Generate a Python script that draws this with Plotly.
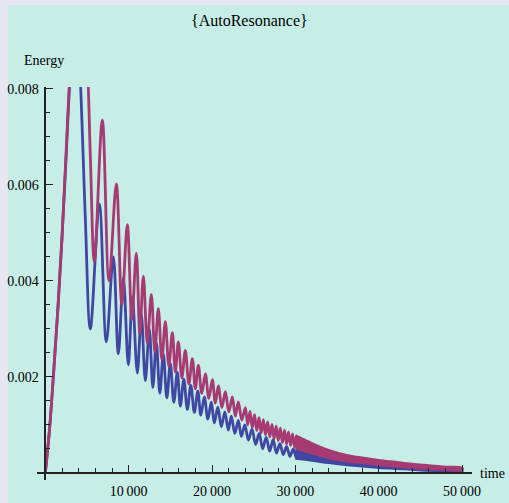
import plotly.graph_objects as go

# ---- data (time, energy) ----
red_t = [0, 500, 1000, 1500, 2000, 2500, 3000, 3700, 4400, 5000, 5400, 5880,
         6840, 7640, 8520, 9180, 9840, 10380, 10920, 11340, 11760, 12240,
         12720, 13140, 13560, 13980, 14400, 14820, 15240, 15600, 15960, 16380,
         16800, 17220, 17640, 18000, 18360, 18780, 19200, 19620, 20040, 20400,
         20760, 21180, 21600, 22020, 22440, 22800, 23160, 23580, 24000,
         24280, 24560, 24830, 25100, 25370, 25640, 25900, 26160, 26420, 26680,
         26940, 27200, 27450, 27700, 27950, 28200, 28450, 28700, 28940, 29180,
         29420, 29660, 29900, 30140, 30370, 30600, 30830, 31060, 31290, 31520,
         31750, 31980]
red_e = [0, 0.0009, 0.0021, 0.0034, 0.0049, 0.0067, 0.0084, 0.0096, 0.0096, 0.0086, 0.0066, 0.0044,
         0.00735, 0.0040, 0.00602, 0.0035, 0.00517, 0.0032, 0.00458, 0.0029, 0.0041, 0.0027,
         0.00372, 0.00252, 0.00342, 0.00236, 0.00315, 0.00222, 0.00292, 0.0021, 0.00273, 0.00198,
         0.00255, 0.00185, 0.00238, 0.00175, 0.00224, 0.00165, 0.00206, 0.00155, 0.00194, 0.00145,
         0.00181, 0.00136, 0.00169, 0.00127, 0.00158, 0.00118, 0.00148, 0.0011, 0.00136,
         0.00100, 0.00128, 0.00094, 0.00121, 0.00088, 0.00115, 0.00083, 0.00111, 0.00079, 0.00106,
         0.00075, 0.00101, 0.00071, 0.00097, 0.00067, 0.00093, 0.00063, 0.00089, 0.00060, 0.00085,
         0.00057, 0.00081, 0.00054, 0.00077, 0.00051, 0.00073, 0.00048, 0.00069, 0.00045, 0.00065,
         0.00042, 0.00061]

blue_t = [0, 500, 1000, 1500, 2000, 2500, 3000, 3500, 4000, 4400, 4800, 5400,
          6480, 7320, 8160, 8760, 9360, 9960, 10440, 11040, 11520, 12000,
          12480, 12900, 13320, 13740, 14160, 14580, 15000, 15420, 15840, 16200,
          16620, 17040, 17460, 17880, 18300, 18660, 19080, 19500, 19920, 20280,
          20700, 21120, 21540, 21960, 22320, 22740, 23160, 23520, 23940,
          24360, 24800, 25240, 25660, 26080, 26500, 26920, 27330, 27740, 28150,
          28550, 28950, 29350, 29750, 30140, 30530, 30920, 31310, 31700, 32090]
blue_e = [0, 0.0009, 0.0021, 0.0034, 0.0049, 0.0066, 0.0083, 0.0092, 0.0087, 0.0073, 0.0053, 0.0030,
          0.0056, 0.00273, 0.0045, 0.00248, 0.00406, 0.00225, 0.00367, 0.00208, 0.0033, 0.00192,
          0.0030, 0.00178, 0.00272, 0.00166, 0.00248, 0.00156, 0.00228, 0.00147, 0.0021, 0.00139,
          0.00195, 0.00132, 0.00182, 0.00126, 0.0017, 0.0012, 0.00158, 0.00112, 0.00147, 0.00104,
          0.00137, 0.00096, 0.00127, 0.00089, 0.00118, 0.00082, 0.00109, 0.00076, 0.0010,
          0.00068, 0.00091, 0.00059, 0.00082, 0.00050, 0.00074, 0.00045, 0.00069, 0.00041, 0.00061,
          0.00038, 0.00055, 0.00034, 0.00050, 0.00031, 0.00045, 0.00029, 0.00041, 0.00027, 0.00038]

# densest oscillations (read as a solid band): upper / lower envelopes
band_t = [30000, 32000, 34000, 36000, 38000, 40000, 42000, 44000, 46000, 48000, 50000]
red_upper = [0.00077, 0.00061, 0.00047, 0.00037, 0.00031, 0.00026, 0.00022, 0.00018, 0.00015, 0.00012, 0.0001]
red_lower = [0.00052, 0.00041, 0.00031, 0.00025, 0.00021, 0.00017, 0.00014, 0.00011, 0.00009, 0.00007, 0.00006]
blue_upper = [0.00046, 0.00038, 0.0003, 0.00024, 0.0002, 0.00016, 0.00013, 0.00011, 0.00009, 0.00007, 0.00006]
blue_lower = [0.00030, 0.00026, 0.00021, 0.00017, 0.00014, 0.00011, 0.00009, 0.00007, 0.00005, 0.00004, 0.00003]

x_ticks = [10000, 20000, 30000, 40000, 50000]
x_labels = ["10\u2009000", "20\u2009000", "30\u2009000", "40\u2009000", "50\u2009000"]
y_ticks = [0.002, 0.004, 0.006, 0.008]
y_labels = ["0.002", "0.004", "0.006", "0.008"]

BLUE = "#4047a3"
RED = "#a63a72"
BG = "#c7eee6"
FRAME = "#e6e6f3"
AX = "#222222"
FONT = "Liberation Serif"

X_RANGE = [-1000, 51200]
Y_RANGE = [-0.00015, 0.00804]

fig = go.Figure()

def band(upper, lower, color):
    return go.Scatter(x=band_t + band_t[::-1], y=upper + lower[::-1], fill="toself",
                      fillcolor=color, mode="lines", line=dict(color=color, width=2.8, shape="spline"),
                      hoverinfo="skip", showlegend=False)

fig.add_trace(band(blue_upper, blue_lower, BLUE))
fig.add_trace(go.Scatter(x=blue_t, y=blue_e, mode="lines",
                         line=dict(color=BLUE, width=2.8, shape="spline", smoothing=1),
                         showlegend=False))
fig.add_trace(band(red_upper, red_lower, RED))
fig.add_trace(go.Scatter(x=red_t, y=red_e, mode="lines",
                         line=dict(color=RED, width=2.8, shape="spline", smoothing=1),
                         showlegend=False))

xpos = (0 - Y_RANGE[0]) / (Y_RANGE[1] - Y_RANGE[0])
ypos = (0 - X_RANGE[0]) / (X_RANGE[1] - X_RANGE[0])

fig.update_layout(
    width=509, height=503,
    margin=dict(l=37, r=37, t=87, b=23, pad=0, autoexpand=False),
    paper_bgcolor=BG, plot_bgcolor=BG,
    font=dict(family=FONT, size=14, color="black"),
    xaxis=dict(range=X_RANGE, anchor="free", position=xpos, showgrid=False, zeroline=False,
               automargin=False,
               showline=True, linecolor=AX, linewidth=1.6,
               tickmode="array", tickvals=x_ticks, ticktext=x_labels,
               ticks="inside", ticklen=7, tickwidth=1.4, tickcolor=AX, ticklabelstandoff=6,
               tickfont=dict(family=FONT, size=14, color="black"),
               minor=dict(tickmode="linear", tick0=0, dtick=2000, ticks="inside",
                          ticklen=4, tickwidth=1.2, tickcolor=AX, showgrid=False)),
    yaxis=dict(range=Y_RANGE, anchor="free", position=ypos, showgrid=False, zeroline=False,
               automargin=False,
               showline=True, linecolor=AX, linewidth=1.6,
               tickmode="array", tickvals=y_ticks, ticktext=y_labels,
               ticks="inside", ticklen=7, tickwidth=1.4, tickcolor=AX, ticklabelstandoff=3,
               tickfont=dict(family=FONT, size=14, color="black"),
               minor=dict(tickmode="linear", tick0=0, dtick=0.0005, ticks="inside",
                          ticklen=4, tickwidth=1.2, tickcolor=AX, showgrid=False)),
    shapes=[
        dict(type="rect", xref="paper", yref="paper", xsizemode="pixel", ysizemode="pixel",
             xanchor=0, yanchor=0, x0=-37, x1=-29, y0=-23, y1=480, fillcolor=FRAME,
             line=dict(width=0), layer="below"),
        dict(type="rect", xref="paper", yref="paper", xsizemode="pixel", ysizemode="pixel",
             xanchor=0, yanchor=1, x0=-37, x1=472, y0=82, y1=88, fillcolor=FRAME,
             line=dict(width=0), layer="below"),
    ],
    annotations=[
        dict(text="{AutoResonance}", xref="paper", yref="paper", x=(249 - 37) / 435, y=(480 - 21) / 393,
             xanchor="center", yanchor="middle", showarrow=False,
             font=dict(family=FONT, size=16, color="black")),
        dict(text="Energy", xref="paper", yref="paper", x=(44 - 37) / 435, y=(480 - 60) / 393,
             xanchor="center", yanchor="middle", showarrow=False,
             font=dict(family=FONT, size=14, color="black")),
        dict(text="time", xref="paper", yref="paper", x=(492 - 37) / 435, y=(480 - 473) / 393,
             xanchor="center", yanchor="middle", showarrow=False,
             font=dict(family=FONT, size=14, color="black")),
    ],
)

fig.write_html("out.html")
